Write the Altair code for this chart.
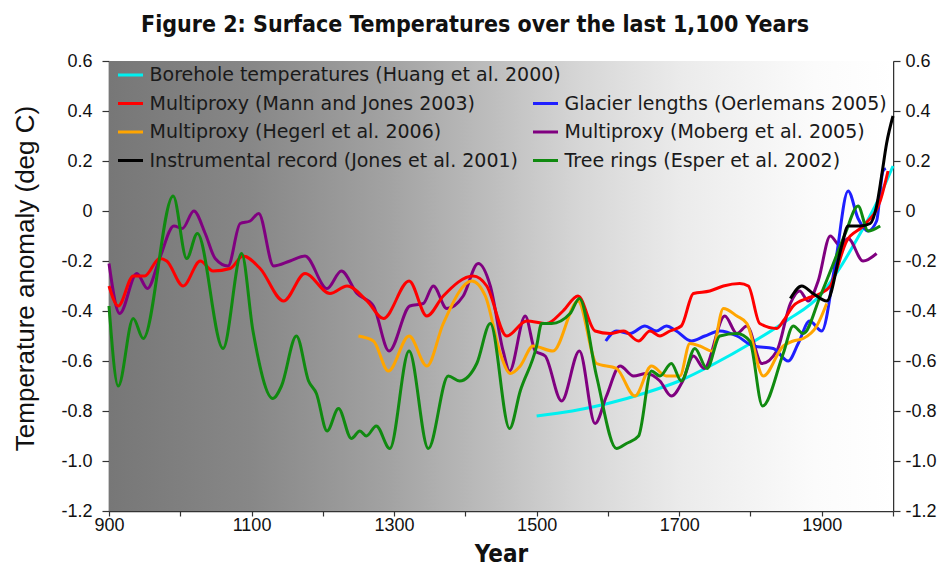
import altair as alt
import pandas as pd

# ---------------- data ----------------
X_MIN, X_MAX = 900, 2000
Y_MIN, Y_MAX = -1.2, 0.6
y_ticks = [-1.2, -1.0, -0.8, -0.6, -0.4, -0.2, 0.0, 0.2, 0.4, 0.6]
x_ticks = [900, 1000, 1100, 1200, 1300, 1400, 1500, 1600, 1700, 1800, 1900, 2000]

series_names = [
    "Borehole temperatures (Huang et al. 2000)",
    "Multiproxy (Mann and Jones 2003)",
    "Multiproxy (Hegerl et al. 2006)",
    "Instrumental record (Jones et al. 2001)",
    "Glacier lengths (Oerlemans 2005)",
    "Multiproxy (Moberg et al. 2005)",
    "Tree rings (Esper et al. 2002)",
]
series_colors = ["#00f0f0", "#ff0000", "#ffa500", "#000000", "#1f1fff", "#800080", "#108a10"]
legend_col = [0, 0, 0, 0, 1, 1, 1]
legend_row = [0, 1, 2, 3, 1, 2, 3]

cyan_years = [1500, 1550, 1600, 1650, 1700, 1750, 1800, 1850, 1900, 1925, 1950, 1975, 2000]
cyan_vals = [-0.82, -0.80, -0.77, -0.73, -0.68, -0.61, -0.53, -0.44, -0.33, -0.23, -0.11, 0.02, 0.18]

red_years = [900, 913, 934, 950, 971, 981, 1004, 1028, 1046, 1070, 1088, 1112, 1145, 1175, 1210,
             1234, 1262, 1285, 1321, 1346, 1369, 1411, 1430, 1458, 1486, 1514, 1537, 1558, 1582,
             1603, 1622, 1643, 1659, 1673, 1687, 1703, 1720, 1743, 1762, 1785, 1797, 1813, 1837,
             1846, 1860, 1879, 1898, 1912, 1935, 1958, 1982, 1993]
red_vals = [-0.30, -0.38, -0.26, -0.26, -0.19, -0.20, -0.30, -0.20, -0.24, -0.23, -0.18, -0.23,
            -0.36, -0.25, -0.33, -0.30, -0.36, -0.43, -0.28, -0.42, -0.34, -0.26, -0.30, -0.50,
            -0.44, -0.45, -0.40, -0.34, -0.48, -0.49, -0.48, -0.52, -0.48, -0.50, -0.48, -0.46,
            -0.33, -0.32, -0.30, -0.29, -0.30, -0.45, -0.47, -0.44, -0.38, -0.35, -0.33, -0.30,
            -0.12, -0.06, 0.04, 0.16]

orange_years = [1250, 1271, 1292, 1321, 1346, 1369, 1409, 1428, 1449, 1463, 1477, 1495, 1523,
                1558, 1584, 1612, 1638, 1661, 1682, 1701, 1715, 1729, 1746, 1762, 1781, 1795,
                1818, 1846, 1860, 1874, 1893, 1907]
orange_vals = [-0.50, -0.52, -0.64, -0.50, -0.62, -0.45, -0.28, -0.34, -0.57, -0.65, -0.62, -0.54,
               -0.56, -0.36, -0.61, -0.63, -0.74, -0.62, -0.66, -0.66, -0.53, -0.54, -0.56, -0.39,
               -0.42, -0.45, -0.66, -0.54, -0.52, -0.51, -0.46, -0.37]

black_years = [1856, 1872, 1888, 1907, 1928, 1937, 1954, 1968, 1977, 1984, 1991, 2000]
black_vals = [-0.35, -0.30, -0.33, -0.36, -0.14, -0.06, -0.06, -0.05, 0.02, 0.14, 0.27, 0.38]

blue_years = [1597, 1612, 1631, 1652, 1668, 1682, 1696, 1717, 1736, 1757, 1781, 1804, 1832, 1853,
              1867, 1883, 1900, 1919, 1937, 1951, 1965, 1977, 1986, 1990]
blue_vals = [-0.52, -0.48, -0.49, -0.46, -0.48, -0.46, -0.48, -0.52, -0.50, -0.48, -0.50, -0.54,
             -0.55, -0.60, -0.53, -0.44, -0.48, -0.21, 0.08, -0.03, -0.08, -0.04, 0.16, 0.17]

purple_years = [900, 915, 939, 954, 971, 991, 1003, 1019, 1035, 1049, 1067, 1084, 1098, 1110, 1131,
                1154, 1175, 1206, 1226, 1248, 1271, 1293, 1322, 1341, 1355, 1374, 1397, 1418, 1435,
                1453, 1462, 1484, 1498, 1512, 1535, 1560, 1582, 1598, 1617, 1636, 1654, 1673, 1689,
                1705, 1720, 1735, 1764, 1781, 1795, 1816, 1837, 1856, 1869, 1881, 1895, 1912, 1926,
                1937, 1958, 1977]
purple_vals = [-0.21, -0.41, -0.25, -0.31, -0.19, -0.06, -0.07, 0.00, -0.09, -0.19, -0.22, -0.05,
               -0.04, -0.01, -0.22, -0.20, -0.18, -0.31, -0.24, -0.33, -0.38, -0.56, -0.38, -0.37,
               -0.30, -0.39, -0.34, -0.21, -0.30, -0.56, -0.64, -0.42, -0.56, -0.58, -0.76, -0.56,
               -0.85, -0.74, -0.62, -0.66, -0.65, -0.68, -0.74, -0.68, -0.58, -0.63, -0.42, -0.49,
               -0.46, -0.61, -0.56, -0.37, -0.32, -0.36, -0.28, -0.10, -0.14, -0.11, -0.20, -0.17]

green_years = [900, 913, 934, 948, 990, 1009, 1024, 1060, 1086, 1102, 1130, 1142, 1163, 1180, 1191,
               1206, 1222, 1240, 1252, 1261, 1275, 1294, 1321, 1348, 1376, 1392, 1416, 1435, 1462,
               1477, 1500, 1507, 1521, 1547, 1560, 1584, 1612, 1626, 1643, 1661, 1673, 1689, 1703,
               1722, 1739, 1757, 1781, 1799, 1817, 1846, 1860, 1874, 1898, 1915, 1933, 1951, 1965,
               1982]
green_vals = [-0.38, -0.70, -0.43, -0.51, 0.06, -0.19, -0.09, -0.55, -0.17, -0.48, -0.75, -0.70,
              -0.50, -0.68, -0.73, -0.88, -0.79, -0.91, -0.88, -0.90, -0.86, -0.95, -0.56, -0.95,
              -0.66, -0.68, -0.61, -0.45, -0.87, -0.72, -0.54, -0.45, -0.45, -0.41, -0.35, -0.66,
              -0.95, -0.93, -0.90, -0.64, -0.66, -0.61, -0.68, -0.55, -0.63, -0.50, -0.49, -0.52,
              -0.78, -0.57, -0.46, -0.49, -0.34, -0.22, -0.09, 0.02, -0.08, -0.06]

# draw order (bottom to top)
draw = [
    (0, cyan_years, cyan_vals),
    (5, purple_years, purple_vals),
    (4, blue_years, blue_vals),
    (1, red_years, red_vals),
    (2, orange_years, orange_vals),
    (6, green_years, green_vals),
    (3, black_years, black_vals),
]

# ---------------- chart ----------------
W, H = 784, 450
LABEL_FONT = "Liberation Sans"
NARROW_BOLD = "Liberation Sans Narrow, DejaVu Sans Condensed, Liberation Sans"
xs = alt.Scale(domain=[X_MIN, X_MAX], nice=False, zero=False)
ys = alt.Scale(domain=[Y_MIN, Y_MAX], nice=False, zero=False)

y_label_expr = "datum.value == 0 ? '0' : (datum.value < 0 ? '-' : '') + format(abs(datum.value), '.1f')"

common_axis = dict(
    grid=False, domainColor="#333333", tickColor="#333333", labelColor="#111111",
    labelFont=LABEL_FONT, labelFontSize=18, domainWidth=1.5, tickWidth=1.2,
    labelFlush=False, labelOverlap=False,
)

x_axis = alt.Axis(values=x_ticks, tickSize=5, labelPadding=0,
                  labelExpr="datum.value % 200 == 100 ? format(datum.value, 'd') : ''",
                  title="Year", titleFont=NARROW_BOLD,
                  titleFontSize=24, titleFontWeight="bold", titleColor="#111111", titlePadding=8,
                  **common_axis)
y_axis_left = alt.Axis(values=y_ticks, tickSize=7, labelPadding=10, labelExpr=y_label_expr,
                       title="Temperature anomaly (deg C)", titleFont=LABEL_FONT, titleFontSize=26,
                       titleFontWeight="normal", titleColor="#111111", titlePadding=22, titleY=217,
                       **common_axis)
y_axis_right = alt.Axis(values=y_ticks, tickSize=7, labelPadding=5, labelExpr=y_label_expr,
                        orient="right", title=None, **common_axis)

bg_df = pd.DataFrame({"x0": [X_MIN], "x1": [X_MAX], "y0": [Y_MIN], "y1": [Y_MAX]})
gradient = alt.Gradient(
    gradient="linear", x1=0, x2=1, y1=0, y2=0,
    stops=[
        alt.GradientStop(offset=0.0, color="#777777"),
        alt.GradientStop(offset=0.18, color="#878787"),
        alt.GradientStop(offset=0.36, color="#a3a3a3"),
        alt.GradientStop(offset=0.5, color="#c0c0c0"),
        alt.GradientStop(offset=0.6, color="#d6d6d6"),
        alt.GradientStop(offset=0.73, color="#ebebeb"),
        alt.GradientStop(offset=0.9, color="#fbfbfb"),
        alt.GradientStop(offset=1.0, color="#ffffff"),
    ],
)
bg = alt.Chart(bg_df).mark_rect(color=gradient).encode(
    x=alt.X("x0:Q", scale=xs, axis=x_axis), x2="x1",
    y=alt.Y("y0:Q", scale=ys, axis=y_axis_left), y2="y1",
)
right_axis_layer = alt.Chart(bg_df).mark_rect(opacity=0).encode(
    x=alt.X("x0:Q", scale=xs, axis=x_axis), x2="x1",
    y=alt.Y("y0:Q", scale=ys, axis=y_axis_right), y2="y1",
)

line_layers = []
for idx, yrs, vals in draw:
    d = pd.DataFrame({"year": yrs, "value": vals, "series": series_names[idx]})
    line_layers.append(
        alt.Chart(d).mark_line(color=series_colors[idx], strokeWidth=3, interpolate="monotone").encode(
            x=alt.X("year:Q", scale=xs, axis=x_axis),
            y=alt.Y("value:Q", scale=ys, axis=None),
        )
    )

main = alt.layer(bg, *line_layers, right_axis_layer).resolve_axis(y="independent")

leg_df = pd.DataFrame({"label": series_names, "color": series_colors,
                       "col": legend_col, "row": legend_row})
lx = alt.X("col:Q", scale=alt.Scale(domain=[0, 1], range=[21.5, 436.5]), axis=None)
ly = alt.Y("row:Q", scale=alt.Scale(domain=[0, 3], range=[14, 99.5]), axis=None)
leg_sym = alt.Chart(leg_df).mark_point(shape="stroke", size=625, strokeWidth=3, opacity=1).encode(
    x=lx, y=ly, color=alt.Color("color:N", scale=None)
)
leg_txt = alt.Chart(leg_df).mark_text(align="left", baseline="middle", dx=19,
                                      font="DejaVu Sans", fontSize=19, color="#1a1a1a").encode(
    x=lx, y=ly, text="label:N"
)
legend = alt.layer(leg_sym, leg_txt)

chart = alt.layer(main, legend).resolve_scale(x="independent", y="independent").properties(
    width=W, height=H,
    title=alt.TitleParams(
        "Figure 2: Surface Temperatures over the last 1,100 Years",
        font=NARROW_BOLD,
        fontSize=23, fontWeight="bold", color="#111111", anchor="middle", dx=-26, offset=15,
    ),
    autosize=alt.AutoSizeParams(type="none"),
    padding={"left": 101, "top": 53, "right": 48, "bottom": 57},
).configure_view(stroke="#444444", strokeWidth=1.5).configure(background="white")

chart.save("out.html", embed_options={"renderer": "svg", "actions": False})
